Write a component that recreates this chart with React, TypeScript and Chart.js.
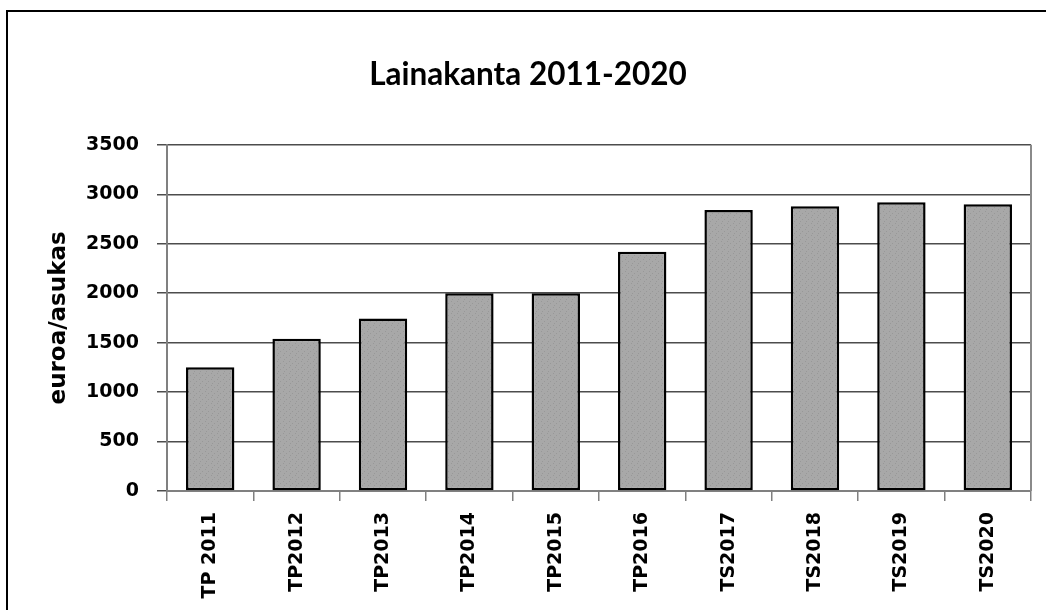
import React, { useEffect, useRef } from "react";
import { Chart, registerables } from "chart.js";

Chart.register(...registerables);

const chartTitle = "Lainakanta 2011-2020";
const yAxisTitle = "euroa/asukas";
const categories = ["TP 2011", "TP2012", "TP2013", "TP2014", "TP2015", "TP2016", "TS2017", "TS2018", "TS2019", "TS2020"];
const values = [1250, 1540, 1745, 2000, 2000, 2420, 2840, 2880, 2920, 2900];
const yTicks = [0, 500, 1000, 1500, 2000, 2500, 3000, 3500];

const plotBorder = {
  id: "plotBorder",
  beforeDatasetsDraw(chart: any) {
    const { ctx, chartArea } = chart;
    const { top, right, bottom } = chartArea;
    ctx.save();
    ctx.strokeStyle = "#8a8a8a";
    ctx.lineWidth = 2;
    ctx.beginPath();
    ctx.moveTo(right, top);
    ctx.lineTo(right, bottom);
    ctx.stroke();
    ctx.restore();
  },
};

function makePattern(): CanvasPattern | string {
  const c = document.createElement("canvas");
  c.width = 6;
  c.height = 6;
  const g = c.getContext("2d");
  if (!g) return "#a6a6a6";
  g.fillStyle = "#a8a8a8";
  g.fillRect(0, 0, 6, 6);
  g.fillStyle = "#989898";
  g.fillRect(1, 1, 1, 1);
  g.fillRect(4, 3, 1, 1);
  g.fillRect(2, 5, 1, 1);
  const p = g.createPattern(c, "repeat");
  return p || "#a6a6a6";
}

export default function App() {
  const ref = useRef<HTMLCanvasElement | null>(null);

  useEffect(() => {
    if (!ref.current) return;
    const chart = new Chart(ref.current, {
      type: "bar",
      data: {
        labels: categories,
        datasets: [
          {
            data: values,
            backgroundColor: makePattern() as any,
            borderColor: "#000000",
            borderWidth: 2.5,
            borderSkipped: false,
            categoryPercentage: 1,
            barPercentage: 0.56,
          },
        ],
      },
      options: {
        animation: false,
        responsive: true,
        maintainAspectRatio: false,
        layout: { padding: { left: 25, right: 15, top: 0, bottom: 0 } },
        plugins: {
          legend: { display: false },
          tooltip: { enabled: false },
          title: {
            display: true,
            text: chartTitle,
            color: "#000",
            font: { family: "Lato, 'Liberation Sans', sans-serif", size: 31.5, weight: "bold", lineHeight: 1.2 },
            padding: { top: 56, bottom: 51 },
          },
        },
        scales: {
          x: {
            offset: true,
            grid: {
              offset: true,
              drawOnChartArea: false,
              drawTicks: true,
              tickLength: 10,
              color: "#808080",
              lineWidth: 1.5,
            },
            border: { display: true, color: "#808080", width: 2 },
            ticks: {
              color: "#000",
              maxRotation: 90,
              minRotation: 90,
              padding: 11,
              font: { family: "'DejaVu Sans', sans-serif", size: 19, weight: "bold" },
            },
            afterFit(scale: any) {
              scale.height = 119;
            },
          },
          y: {
            min: 0,
            max: 3500,
            afterBuildTicks(scale: any) {
              scale.ticks = yTicks.map((v) => ({ value: v }));
            },
            grid: {
              color: "#4d4d4d",
              lineWidth: 1.5,
              tickLength: 10,
              drawTicks: true,
            },
            border: { display: true, color: "#808080", width: 2 },
            ticks: {
              color: "#000",
              padding: 18,
              font: { family: "'DejaVu Sans', sans-serif", size: 19, weight: "bold" },
              callback: (v: any) => String(v),
            },
            title: {
              display: true,
              text: yAxisTitle,
              color: "#000",
              font: { family: "'DejaVu Sans', sans-serif", size: 23, weight: "bold", lineHeight: 1.2 },
              padding: { top: 20, bottom: 0 },
            },
            afterFit(scale: any) {
              scale.width = 142;
            },
          },
        },
      },
      plugins: [plotBorder],
    });
    return () => chart.destroy();
  }, []);

  return (
    <div style={{ position: "fixed", left: 0, top: 0, width: 1046, height: 610, background: "#fff", overflow: "hidden" }}>
      <div
        style={{
          position: "absolute",
          left: 6,
          top: 10,
          width: 1100,
          height: 700,
          borderLeft: "2px solid #000",
          borderTop: "2px solid #000",
        }}
      />
      <div style={{ position: "absolute", left: 0, top: 0, width: 1046, height: 610 }}>
        <canvas ref={ref} />
      </div>
    </div>
  );
}
